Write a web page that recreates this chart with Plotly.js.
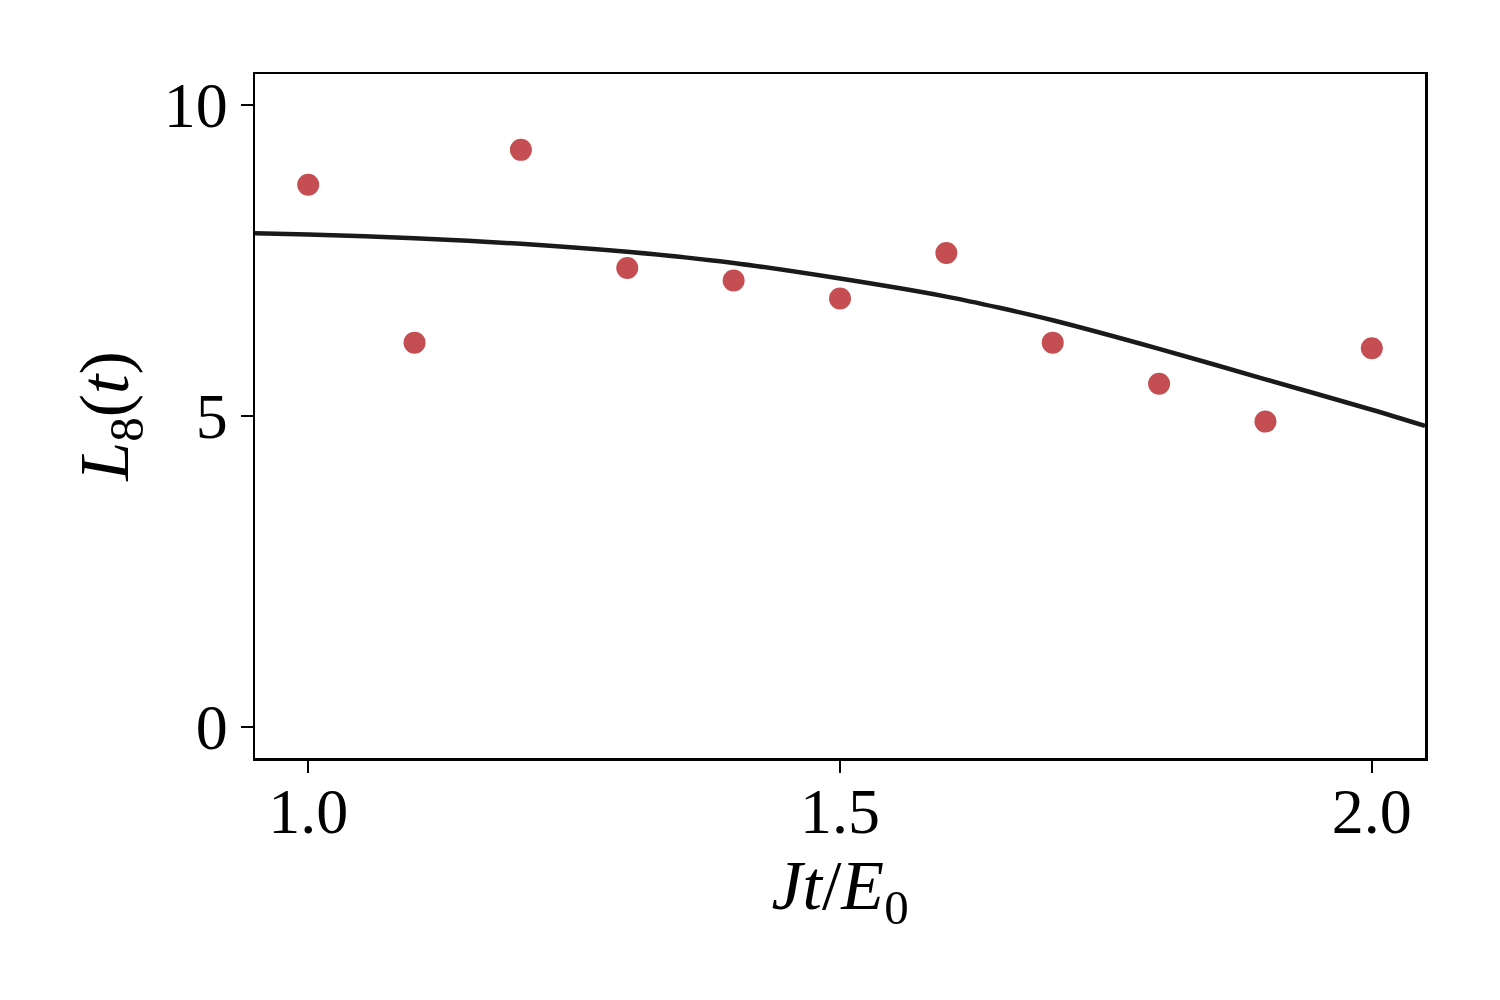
<!DOCTYPE html>
<html>
<head>
<meta charset="utf-8">
<script src="https://cdn.plot.ly/plotly-3.0.1.min.js"></script>
<style>
  html, body { margin: 0; padding: 0; background: #fff; }
  #chart { width: 1500px; height: 1000px; }
</style>
</head>
<body>
<div id="chart"></div>
<script>
// measured points
const timeX = [1.0, 1.1, 1.2, 1.3, 1.4, 1.5, 1.6, 1.7, 1.8, 1.9, 2.0];
const echoY = [8.72, 6.18, 9.28, 7.38, 7.18, 6.89, 7.62, 6.18, 5.52, 4.91, 6.09];

// fitted curve
const fitX = [0.95, 1.0, 1.1, 1.2, 1.3, 1.4, 1.5, 1.6, 1.65, 1.7, 1.8, 1.9, 2.0, 2.05];
const fitY = [7.94, 7.92, 7.86, 7.77, 7.64, 7.46, 7.21, 6.92, 6.74, 6.54, 6.08, 5.59, 5.10, 4.84];

const xTicks = [1.0, 1.5, 2.0];
const xTickText = ['1.0', '1.5', '2.0'];
const yTicks = [0, 5, 10];

const serif = 'Liberation Serif, Times New Roman, serif';

const traces = [
    {
        x: fitX,
        y: fitY,
        type: 'scatter',
        mode: 'lines',
        line: { color: '#1a1a1a', width: 4.5, shape: 'spline', smoothing: 0.8 },
        hoverinfo: 'skip'
    },
    {
        x: timeX,
        y: echoY,
        type: 'scatter',
        mode: 'markers',
        marker: { color: '#C44E52', size: 22 }
    }
];

const layout = {
    width: 1500,
    height: 1000,
    paper_bgcolor: '#fff',
    plot_bgcolor: '#fff',
    showlegend: false,
    font: { family: serif, color: '#000', size: 64 },
    margin: { l: 255, r: 75, t: 74, b: 242 },
    xaxis: {
        range: [0.95, 2.05],
        tickvals: xTicks,
        ticktext: xTickText,
        ticks: 'outside',
        ticklen: 12,
        tickwidth: 2,
        tickcolor: '#000',
        ticklabelstandoff: -16,
        showline: true,
        linecolor: '#000',
        linewidth: 2.5,
        mirror: true,
        showgrid: false,
        zeroline: false,
        tickfont: { size: 64 },
        title: { text: '<i>Jt</i>/<i>E</i><sub>0</sub>', font: { size: 70 }, standoff: 8 }
    },
    yaxis: {
        range: [-0.5, 10.5],
        tickvals: yTicks,
        ticks: 'outside',
        ticklen: 12,
        tickwidth: 2,
        tickcolor: '#000',
        showline: true,
        linecolor: '#000',
        linewidth: 2.5,
        mirror: true,
        showgrid: false,
        zeroline: false,
        tickfont: { size: 64 },
        title: { text: '<i>L</i><sub>8</sub>(<i>t</i>)', font: { size: 70 }, standoff: 12 }
    }
};

Plotly.newPlot('chart', traces, layout, { displayModeBar: false, staticPlot: true });
</script>
</body>
</html>
